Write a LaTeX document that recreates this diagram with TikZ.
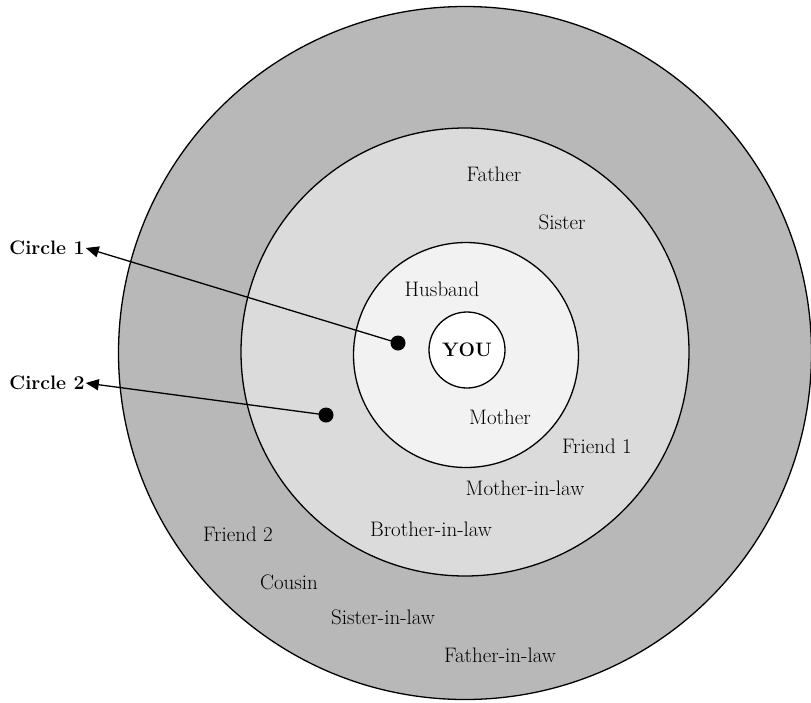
\documentclass[tikz,border=0pt]{standalone}
\usepackage{fontspec}
\usepackage{tikz}
\usetikzlibrary{arrows.meta, positioning}
\tikzset{
    ring/.style={circle, draw=black, line width=1.3pt, inner sep=0pt},
    dot/.style={circle, fill=black, inner sep=0pt, minimum size=15pt},
    member/.style={font=\fontsize{21}{24}\selectfont},
    tag/.style={font=\fontsize{19.5}{22}\selectfont\bfseries, inner sep=1pt},
    arrow/.style={-{Triangle[length=13pt,width=11pt]}, line width=1.3pt}
}
\begin{document}
\begin{tikzpicture}[x=1pt, y=-1pt]
    \useasboundingbox (0,0) rectangle (811,702);

    % Rings, outermost first
    \node[ring, fill=black!28, minimum size=693pt] (outer) at (465,353) {};
    \node[ring, fill=black!14, minimum size=448pt] (middle) at (465,352) {};
    \node[ring, fill=black!5, minimum size=225pt] (inner) at (466,355) {};
    \node[ring, fill=white, minimum size=76pt, tag] (you) at (467,350) {YOU};

    % Who sits where
    \node[member] (father) at (494,174) {Father};
    \node[member] (sister) at (562,222) {Sister};
    \node[member] (husband) at (442,289) {Husband};
    \node[member] (mother) at (500,417) {Mother};
    \node[member] (friendA) at (597,446) {Friend 1};
    \node[member] (motherIL) at (525,488) {Mother-in-law};
    \node[member] (brotherIL) at (431,529) {Brother-in-law};
    \node[member] (friendB) at (238,534) {Friend 2};
    \node[member] (cousin) at (289,582) {Cousin};
    \node[member] (sisterIL) at (383,617) {Sister-in-law};
    \node[member] (fatherIL) at (500,655) {Father-in-law};

    % Pointers to the rings
    \node[tag] (c1) at (47,248) {Circle 1};
    \node[tag] (c2) at (47,383) {Circle 2};
    \node[dot] (d1) at (398,343) {};
    \node[dot] (d2) at (326,415) {};
    \draw[arrow] (d1.center) -- (c1.east);
    \draw[arrow] (d2.center) -- (c2.east);
\end{tikzpicture}
\end{document}
